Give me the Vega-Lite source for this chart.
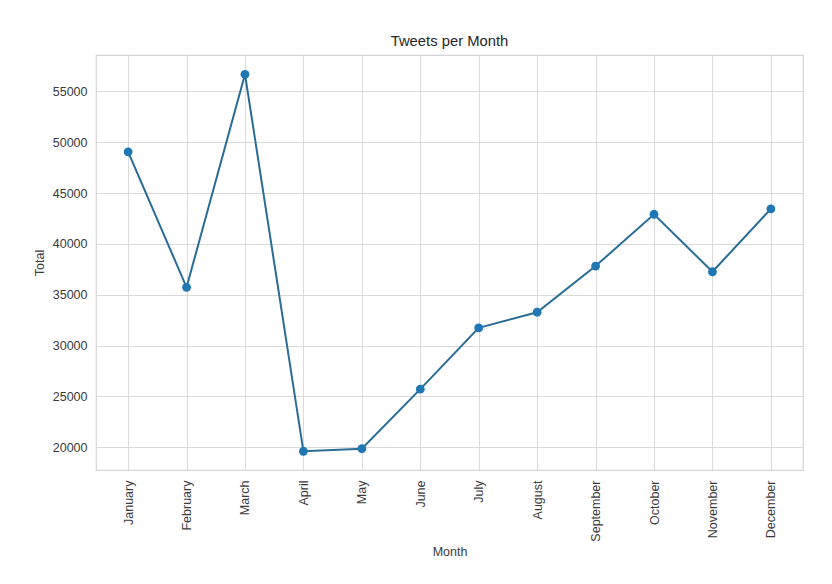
{
  "$schema": "https://vega.github.io/schema/vega-lite/v6.json",
  "autosize": {"type": "none"},
  "padding": {"left": 96, "top": 55, "right": 29, "bottom": 114},
  "width": 707,
  "height": 415,
  "background": "white",
  "config": {
    "font": "Liberation Sans",
    "view": {"stroke": "#d5d5d5", "strokeWidth": 1.2},
    "axis": {
      "gridColor": "#dadada",
      "gridWidth": 1,
      "domain": false,
      "ticks": false,
      "labelColor": "#3a3a3a",
      "titleColor": "#3a3a3a",
      "labelFontSize": 12.5,
      "titleFontSize": 12.5,
      "titleFontWeight": "normal",
      "labelFont": "Liberation Sans",
      "titleFont": "Liberation Sans"
    },
    "title": {"font": "Liberation Sans", "fontSize": 14.8, "fontWeight": "normal", "color": "#262626", "offset": 6}
  },
  "title": {"text": "Tweets per Month", "anchor": "middle"},
  "data": {
    "values": [
      {"Month": "January", "Total": 49050},
      {"Month": "February", "Total": 35730},
      {"Month": "March", "Total": 56670},
      {"Month": "April", "Total": 19610},
      {"Month": "May", "Total": 19860},
      {"Month": "June", "Total": 25720},
      {"Month": "July", "Total": 31740},
      {"Month": "August", "Total": 33280},
      {"Month": "September", "Total": 37820},
      {"Month": "October", "Total": 42910},
      {"Month": "November", "Total": 37260},
      {"Month": "December", "Total": 43440}
    ]
  },
  "encoding": {
    "x": {
      "field": "Month",
      "type": "ordinal",
      "sort": null,
      "scale": {"type": "point", "padding": 0.55},
      "axis": {"title": "Month", "labelAngle": 270, "labelPadding": 10, "titlePadding": 4, "grid": true}
    },
    "y": {
      "field": "Total",
      "type": "quantitative",
      "scale": {"domain": [17770, 58570], "nice": false, "zero": false},
      "axis": {"title": "Total", "values": [20000, 25000, 30000, 35000, 40000, 45000, 50000, 55000], "format": "d", "labelPadding": 9, "titlePadding": 6}
    }
  },
  "layer": [
    {"mark": {"type": "line", "color": "#2a6c94", "strokeWidth": 2}},
    {"mark": {"type": "point", "filled": true, "opacity": 1, "color": "#1f77b4", "size": 78}}
  ]
}
